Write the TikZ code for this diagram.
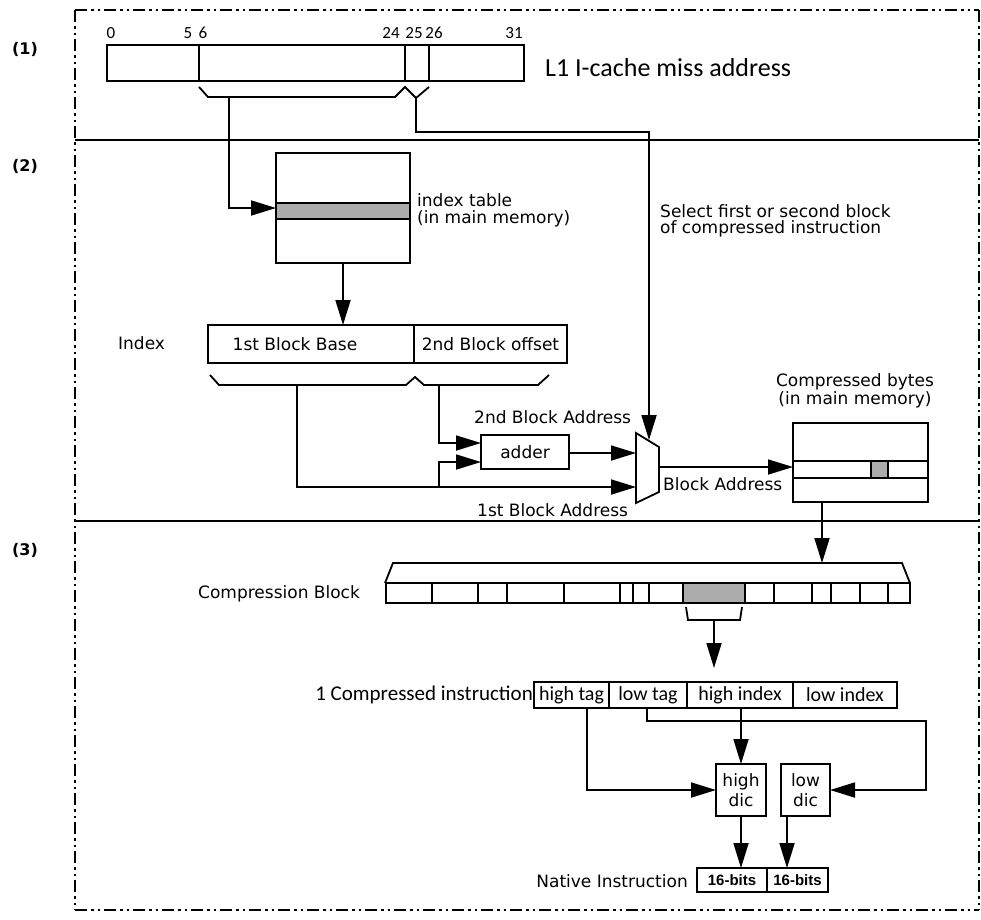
\documentclass[tikz,border=0pt]{standalone}
\usepackage{fontspec}
\setmainfont{DejaVu Sans}
\newfontfamily\carl{Carlito}
\newfontfamily\arl{Liberation Sans}
\usetikzlibrary{arrows.meta}
\tikzset{
  ln/.style={line width=1.8pt},
  arr/.style={line width=1.8pt, -{Triangle[length=25pt,width=15pt]}},
  bx/.style={draw, line width=1.8pt, inner sep=0pt, outer sep=0pt},
  lbl/.style={inner sep=0pt, font=\fontsize{17}{20}\selectfont},
  clbl/.style={inner sep=0pt, font=\carl\fontsize{21}{23}\selectfont},
  bitl/.style={inner sep=0pt, font=\carl\fontsize{17}{19}\selectfont},
  secl/.style={inner sep=0pt, font=\bfseries\fontsize{16}{18}\selectfont},
  framel/.style={line width=1.4pt, dash pattern=on 12pt off 4pt on 2.5pt off 4pt on 2.5pt off 4pt},
  sepl/.style={line width=1.5pt},
  grayf/.style={draw, line width=1.8pt, fill=gray!65}
}
\begin{document}
\begin{tikzpicture}[x=1pt,y=-1pt]
\useasboundingbox (0,0) rectangle (981,919);
% frame
\draw[framel] (75,10) -- (979,10);
\draw[framel] (75,10) -- (75,910);
\draw[framel] (75,910) -- (979,910);
\draw[framel] (979,10) -- (979,910);
\draw[sepl] (75,140) -- (979,140);
\draw[sepl] (75,521) -- (979,521);
% section labels
\node[secl] (s1) at (25,49) {(1)};
\node[secl] (s2) at (25,166) {(2)};
\node[secl] (s3) at (25,550) {(3)};

% ---------- section 1 ----------
\node[bx, minimum width=92, minimum height=36] (a0) at (153,63) {};
\node[bx, minimum width=206, minimum height=36] (a1) at (302,63) {};
\node[bx, minimum width=24, minimum height=36] (a2) at (417,63) {};
\node[bx, minimum width=95, minimum height=36] (a3) at (476.5,63) {};
\node[bitl] (n0) at (111,33) {0};
\node[bitl] (n5) at (188,33) {5};
\node[bitl] (n6) at (203,33) {6};
\node[bitl] (n24) at (391,33) {24};
\node[bitl] (n25) at (414,33) {25};
\node[bitl] (n26) at (434,33) {26};
\node[bitl] (n31) at (514,33) {31};
\node[inner sep=0pt, font=\carl\fontsize{26}{28}\selectfont, anchor=west] (l1) at (545,68) {L1 I-cache miss address};
% brace under address
\draw[ln] (199,87) -- (208,97) -- (395,97) -- (405,87) -- (416,98) -- (429,87);
\coordinate (b1) at (229,97);
\coordinate (vt) at (416,98);
\coordinate (sel) at (649,132);

% ---------- section 2 ----------
\node[bx, minimum width=134, minimum height=110] (itab) at (343,208) {};
\draw[grayf] (276,203) rectangle (410,219);
\node[lbl, anchor=west] (litab1) at (417,200) {index table};
\node[lbl, anchor=west] (litab2) at (417,219) {(in main memory)};
\draw[arr] (b1) |- (itab.west);

\node[bx, minimum width=206, minimum height=38, font=\fontsize{17}{20}\selectfont] (base) at (311,344) {\hspace*{-32pt}1st Block Base};
\node[bx, minimum width=153, minimum height=38, font=\fontsize{17}{20}\selectfont] (offs) at (490.5,344) {2nd Block offset};
\node[lbl, anchor=west] (lindex) at (118,343) {Index};
\draw[arr] (itab.south) -- (itab.south |- base.north);

\draw[ln] (210,375) -- (219,385) -- (406,385) -- (415,377) -- (424,385) -- (538,385) -- (549,375);
\coordinate (b2) at (297,385);
\coordinate (b3) at (439,385);

\node[bx, minimum width=88, minimum height=34, font=\fontsize{17}{20}\selectfont] (adder) at (525,452) {adder};
% mux
\coordinate (mtl) at (636,433);
\coordinate (mbl) at (636,503);
\coordinate (mbr) at (659,492);
\coordinate (mtr) at (659,447);
\draw[ln, fill=white] (mtl) -- (mtr) -- (mbr) -- (mbl) -- cycle;
\coordinate (muxtop) at (649,440);
\coordinate (muxin1) at (636,453);
\coordinate (muxin2) at (636,487);
\coordinate (muxout) at (659,467);

\draw[arr] (vt) |- (sel) -- (muxtop);
\draw[arr] (b3) |- (adder.west |- 0,443);
\coordinate (j1) at (439,487);
\draw[arr] (b2) |- (muxin2);
\draw[arr] (j1) |- (adder.west |- 0,462);
\draw[arr] (adder.east |- muxin1) -- (muxin1);

\node[lbl, anchor=west] (l2nd) at (474,417) {2nd Block Address};
\node[lbl, anchor=west] (l1st) at (477,510) {1st Block Address};
\node[lbl, anchor=west] (lsel1) at (660,211) {Select first or second block};
\node[lbl, anchor=west] (lsel2) at (660,229) {of compressed instruction};

\node[bx, minimum width=135, minimum height=79] (cbytes) at (860.5,462.5) {};
\draw[ln] (793,461) -- (928,461);
\draw[ln] (793,478) -- (928,478);
\draw[grayf] (871,461) rectangle (888,478);
\node[lbl] (lcb1) at (855,382) {Compressed bytes};
\node[lbl] (lcb2) at (855,400) {(in main memory)};
\draw[arr] (muxout) -- (muxout -| cbytes.west);
\node[lbl, anchor=west] (lba) at (663,484) {Block Address};

% ---------- section 3 ----------
\coordinate (cbt) at (822,563);
\draw[arr] (cbytes.south -| cbt) -- (cbt);
\draw[ln] (385,583) -- (393,563) -- (902,563) -- (910,583);
\node[bx, minimum width=524, minimum height=20] (cblock) at (648,593) {};
\draw[grayf] (683,583) rectangle (745,603);
\foreach \xx in {432,478,507,564,620,633,649,683,745,774,812,831,860,888}
  \draw[ln] (\xx,583) -- (\xx,603);
\node[lbl, anchor=west] (lcblk) at (198,594) {Compression Block};
\draw[ln] (686,607) -- (688,620) -- (740,620) -- (742,607);
\coordinate (brk) at (714,620);
\coordinate (brkend) at (714,668);
\draw[arr] (brk) -- (brkend);

\node[bx, minimum width=75, minimum height=26, font=\carl\fontsize{20}{22}\selectfont] (htag) at (571.5,695) {high tag};
\node[bx, minimum width=78, minimum height=26, font=\carl\fontsize{20}{22}\selectfont] (ltag) at (648,695) {low tag};
\node[bx, minimum width=106, minimum height=26, font=\carl\fontsize{20}{22}\selectfont] (hidx) at (740,695) {high index};
\node[bx, minimum width=104, minimum height=26, font=\carl\fontsize{20}{22}\selectfont] (lidx) at (845,695) {low index};
\node[clbl, anchor=east] (lci) at (533,695) {1 Compressed instruction};

\node[bx, minimum width=50, minimum height=52, align=center, font=\fontsize{17}{20}\selectfont] (hdic) at (741,790) {high\\dic};
\node[bx, minimum width=49, minimum height=52, align=center, font=\fontsize{17}{20}\selectfont] (ldic) at (805.5,790) {low\\dic};

\coordinate (ht) at (587,708);
\coordinate (lt) at (647,708);
\coordinate (lt2) at (926,721);
\draw[arr] (ht) |- (hdic.west);
\draw[arr] (lt) |- (lt2) |- (ldic.east);
\draw[arr] (hidx.south -| hdic.north) -- (hdic.north);

\node[bx, minimum width=70, minimum height=24, font=\arl\bfseries\fontsize{15}{17}\selectfont] (nat1) at (732,880) {16-bits};
\node[bx, minimum width=61, minimum height=24, font=\arl\bfseries\fontsize{15}{17}\selectfont] (nat2) at (797.5,880) {16-bits};
\node[lbl, anchor=east] (lnat) at (688,881) {Native Instruction};
\draw[arr] (hdic.south) -- (hdic.south |- nat1.north);
\coordinate (ldo) at (787,816);
\draw[arr] (ldo) -- (ldo |- nat2.north);
\end{tikzpicture}
\end{document}
